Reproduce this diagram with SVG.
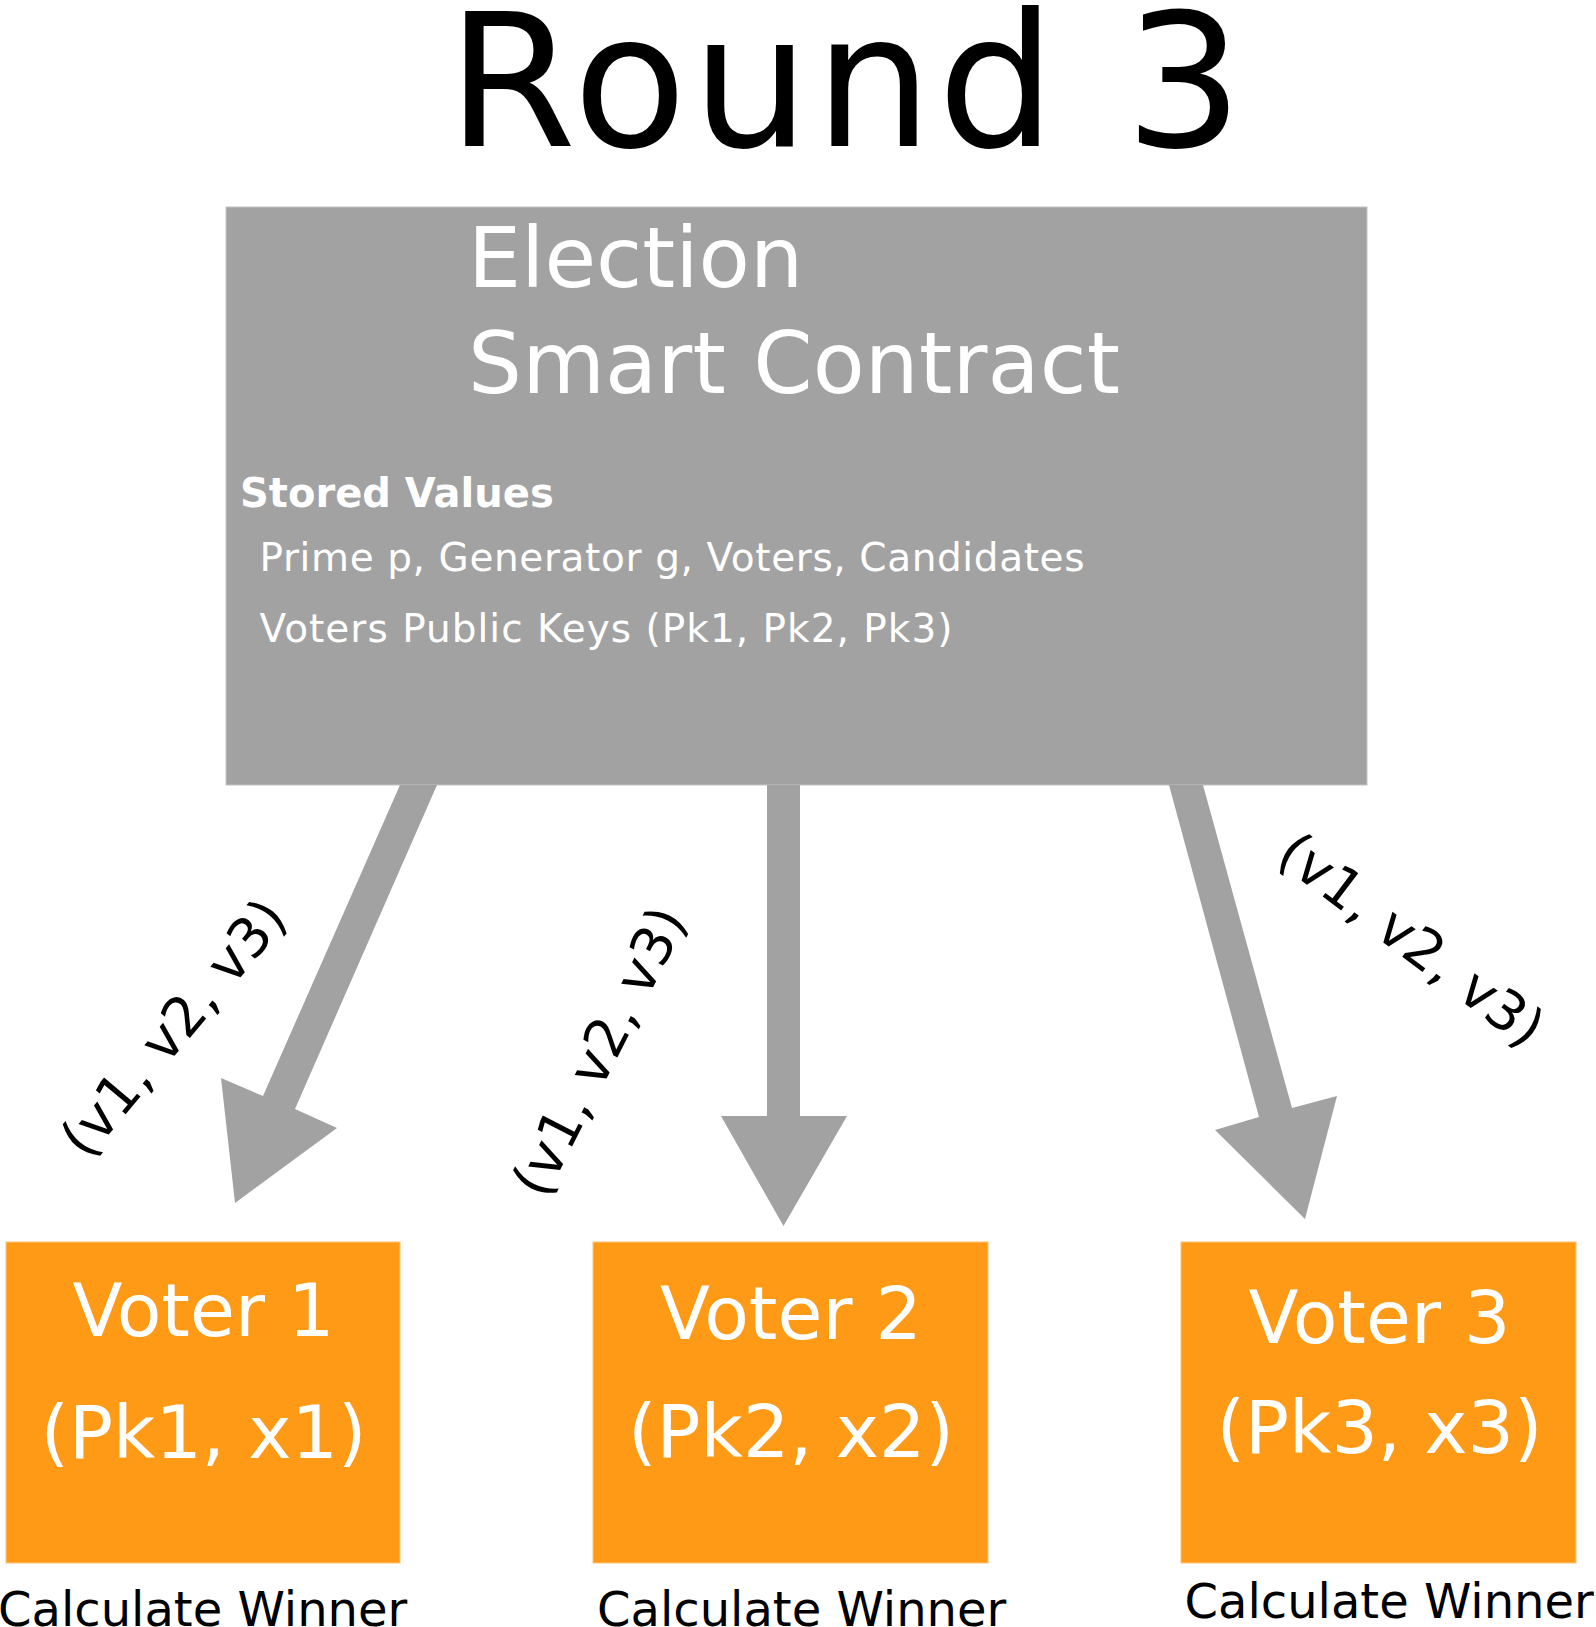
<svg xmlns="http://www.w3.org/2000/svg" width="1596" height="1627" viewBox="0 0 1596 1627">
  <style>
    text { font-family: "DejaVu Sans", Verdana, sans-serif; }
    .contract { fill: #a2a2a2; stroke: #c4c4c4; stroke-width: 1; }
    .voter { fill: #fe9a15; stroke: #fdc27a; stroke-width: 1; }
    .arrow { fill: #a2a2a2; }
    .wt { fill: #ffffff; }
    .vt { fill: #ffffff; font-size: 73px; text-anchor: middle; }
    .calc { fill: #000000; font-size: 48px; }
    .lbl { fill: #000000; font-size: 55px; text-anchor: middle; }
  </style>
  <rect width="1596" height="1627" fill="#ffffff"/>

  <g id="title">
    <text x="447" y="146" font-size="186" textLength="796" lengthAdjust="spacing" fill="#000000">Round 3</text>
  </g>

  <g id="contract">
    <rect class="contract" x="226" y="207" width="1141" height="578"/>
    <text class="wt" x="468" y="287" font-size="84">Election</text>
    <text class="wt" x="468" y="393" font-size="85" textLength="652" lengthAdjust="spacing">Smart Contract</text>
    <text class="wt" x="240" y="507" font-size="40" font-weight="bold">Stored Values</text>
    <text class="wt" x="259.5" y="571" font-size="39" textLength="825" lengthAdjust="spacing">Prime p, Generator g, Voters, Candidates</text>
    <text class="wt" x="259.5" y="642" font-size="39" textLength="693" lengthAdjust="spacing">Voters Public Keys (Pk1, Pk2, Pk3)</text>
  </g>

  <g id="connectors">
    <polygon class="arrow" points="400,785 437,785 295,1109 337,1128 235,1203 221,1078 263,1096"/>
    <polygon class="arrow" points="767,785 800,785 800,1116 847,1116 783.5,1226 721,1116 767,1116"/>
    <polygon class="arrow" points="1169,785 1203,785 1292,1108 1337,1096 1305,1219 1215,1130 1259,1117"/>
    <text class="lbl" transform="translate(188,1040) rotate(-50)">(v1, v2, v3)</text>
    <text class="lbl" transform="translate(616,1060) rotate(-63)">(v1, v2, v3)</text>
    <text class="lbl" transform="translate(1400,955) rotate(37)">(v1, v2, v3)</text>
  </g>

  <g id="voter1">
    <rect class="voter" x="6" y="1242" width="394" height="321"/>
    <text class="vt" x="203.5" y="1336">Voter 1</text>
    <text class="vt" x="203.5" y="1458">(Pk1, x1)</text>
    <text class="calc" x="-2" y="1626">Calculate Winner</text>
  </g>

  <g id="voter2">
    <rect class="voter" x="593" y="1242" width="395" height="321"/>
    <text class="vt" x="791" y="1339">Voter 2</text>
    <text class="vt" x="791" y="1457">(Pk2, x2)</text>
    <text class="calc" x="597" y="1626">Calculate Winner</text>
  </g>

  <g id="voter3">
    <rect class="voter" x="1181" y="1242" width="395" height="321"/>
    <text class="vt" x="1379.5" y="1343">Voter 3</text>
    <text class="vt" x="1379.5" y="1453">(Pk3, x3)</text>
    <text class="calc" x="1184.5" y="1618">Calculate Winner</text>
  </g>
</svg>
